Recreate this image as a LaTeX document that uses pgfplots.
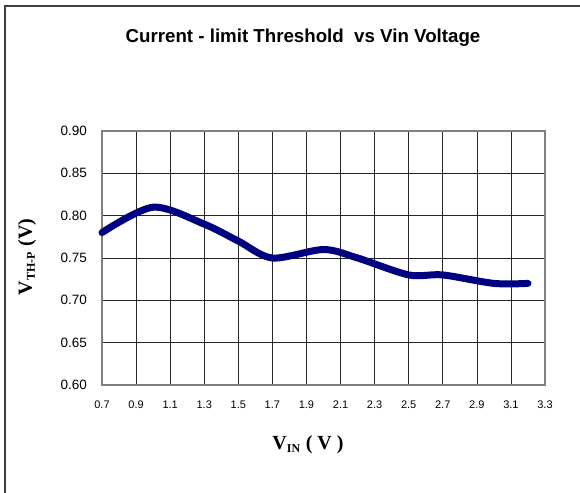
\documentclass[border=0pt]{standalone}
\usepackage{pgfplots}
\pgfplotsset{compat=1.18}
\usepackage{fontspec}
\setmainfont{Liberation Sans}
\newfontfamily\timesfont{Liberation Serif}
\definecolor{navyline}{RGB}{0,0,128}
\definecolor{framegray}{RGB}{128,128,128}
\definecolor{outerframe}{RGB}{64,64,64}
\begin{document}
\begin{tikzpicture}
\path[use as bounding box] (0,0) rectangle (580bp,493bp);
% outer frame (left and top visible)
\draw[outerframe, line width=2bp] (4.5bp,0bp) -- (4.5bp,486.5bp) -- (580bp,486.5bp);
\begin{axis}[
  at={(102bp,108bp)}, anchor=south west,
  scale only axis, width=443bp, height=254bp,
  xmin=0.7, xmax=3.3, ymin=0.6, ymax=0.9,
  xtick={0.7,0.9,...,3.31},
  ytick={0.6,0.65,...,0.91},
  grid=major,
  major grid style={black!85, line width=0.7bp},
  major tick length=0pt,
  axis line style={framegray, line width=2bp},
  /pgf/number format/assume math mode=true,
  xticklabel style={font=\fontsize{11bp}{13bp}\selectfont, /pgf/number format/.cd, fixed, fixed zerofill, precision=1},
  yticklabel style={font=\fontsize{13.5bp}{16bp}\selectfont, /pgf/number format/.cd, fixed, fixed zerofill, precision=2},
  xticklabel shift=12.5bp,
  yticklabel shift=11.5bp,
  clip=false,
]
\addplot[navyline, line width=7bp, smooth, line cap=round, line join=round] coordinates {
(0.7,0.78) (1.0,0.81) (1.3,0.79) (1.5,0.77) (1.7,0.75) (2.0,0.76) (2.2,0.75) (2.5,0.73) (2.7,0.73) (3.0,0.72) (3.2,0.72)
};
\end{axis}
\node[font=\bfseries\fontsize{18.7bp}{22bp}\selectfont, anchor=base] at (303bp,450bp) {Current - limit Threshold \ vs Vin Voltage};
\node[font=\timesfont\bfseries\fontsize{20bp}{24bp}\selectfont] at (308bp,48bp) {V\textsubscript{\fontsize{12bp}{14bp}\selectfont IN} ( V )};
\node[font=\timesfont\bfseries\fontsize{20bp}{24bp}\selectfont, rotate=90] at (27bp,236bp) {V\textsubscript{\fontsize{12bp}{14bp}\selectfont TH-P} (V)};
\end{tikzpicture}
\end{document}
